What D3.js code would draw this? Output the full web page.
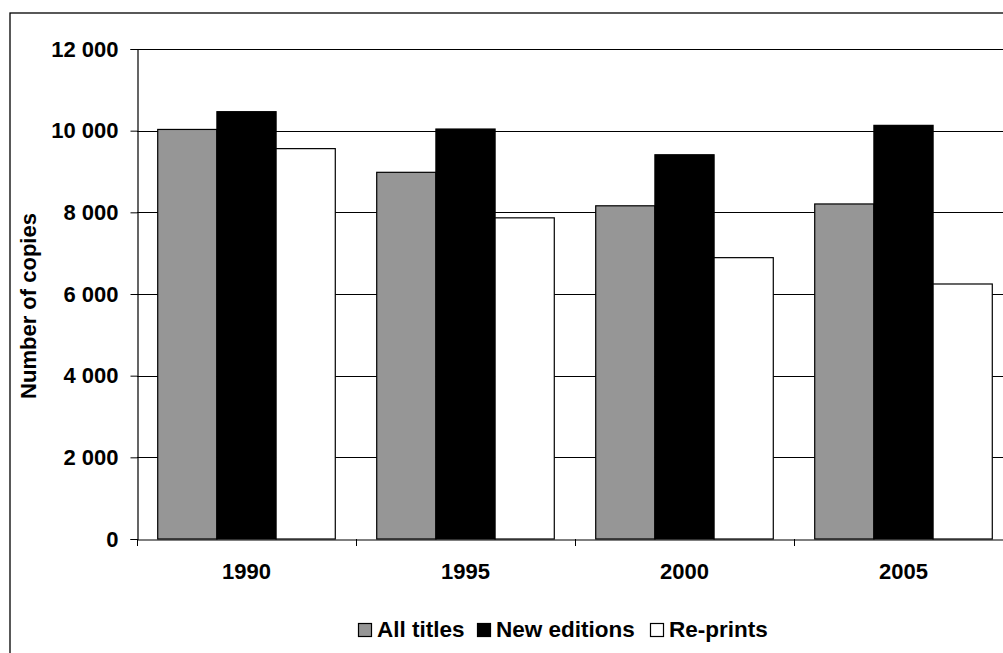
<!DOCTYPE html>
<html>
<head>
<meta charset="utf-8">
<script src="https://cdn.jsdelivr.net/npm/d3@7"></script>
<style>
  html, body { margin: 0; padding: 0; background: #fff; }
  svg { display: block; font-family: "Liberation Sans", Arial, sans-serif; font-weight: bold; }
</style>
</head>
<body>
<svg id="chart" width="1003" height="653"></svg>
<script>
const years = ["1990", "1995", "2000", "2005"];
const seriesNames = ["All titles", "New editions", "Re-prints"];
const allTitles = [10030, 8980, 8160, 8205];
const newEditions = [10465, 10040, 9410, 10130];
const reprints = [9560, 7865, 6890, 6245];
const yTicks = [0, 2000, 4000, 6000, 8000, 10000, 12000];
const seriesColors = ["#969696", "#000000", "#ffffff"];

const seriesValues = [allTitles, newEditions, reprints];

const svg = d3.select("#chart");
const pLeft = 137, pRight = 1013, pTop = 49, pBottom = 539;
const FS = 22;
const FF = "Liberation Sans, Arial, sans-serif";

// outer chart border
svg.append("rect").attr("x", 10).attr("y", 13).attr("width", 1010).attr("height", 660)
  .attr("fill", "#fff").attr("stroke", "#000").attr("stroke-width", 1.3);

const x = d3.scaleBand().domain(years).range([pLeft, pRight]).padding(0);
const xs = d3.scaleBand().domain(seriesNames).range([0, x.bandwidth()]).paddingInner(0).paddingOuter(0.35);
const y = d3.scaleLinear().domain([0, 12000]).range([pBottom, pTop]);

const fmt = v => d3.format(",")(v).replace(/,/g, " ");

// gridlines
svg.append("g").selectAll("line").data(yTicks.filter(t => t > 0)).join("line")
  .attr("x1", pLeft).attr("x2", pRight)
  .attr("y1", d => Math.round(y(d)) + 0.5).attr("y2", d => Math.round(y(d)) + 0.5)
  .attr("stroke", "#000").attr("stroke-width", 1);

// bars
const groups = svg.append("g").selectAll("g").data(years).join("g")
  .attr("transform", d => `translate(${x(d)},0)`);
groups.selectAll("rect").data((d, i) => seriesNames.map((s, j) => ({ s, j, v: seriesValues[j][i] })))
  .join("rect")
  .attr("x", d => xs(d.s))
  .attr("y", d => y(d.v))
  .attr("width", xs.bandwidth())
  .attr("height", d => pBottom - y(d.v))
  .attr("fill", d => seriesColors[d.j])
  .attr("stroke", "#000").attr("stroke-width", 1.2);

// y axis
const yAxis = d3.axisLeft(y).tickValues(yTicks).tickSize(7).tickPadding(12).tickFormat(fmt);
const gy = svg.append("g").attr("transform", `translate(${pLeft + 0.5},0)`).call(yAxis);
gy.select(".domain").attr("stroke", "#000").attr("stroke-width", 1.2);
gy.selectAll(".tick line").attr("stroke", "#000");
gy.selectAll("text").attr("font-size", FS).attr("font-weight", "bold").attr("fill", "#000")
  .attr("font-family", FF);

// x axis
const gx = svg.append("g").attr("transform", `translate(0,${pBottom + 0.5})`)
  .call(d3.axisBottom(x).tickSize(0).tickPadding(24));
gx.select(".domain").attr("stroke", "#000").attr("stroke-width", 1.2);
gx.selectAll("text").attr("font-size", FS).attr("font-weight", "bold").attr("fill", "#000")
  .attr("font-family", FF);
// category boundary ticks
svg.append("g").selectAll("line").data(years).join("line")
  .attr("x1", d => Math.round(x(d)) + 0.5).attr("x2", d => Math.round(x(d)) + 0.5)
  .attr("y1", pBottom).attr("y2", pBottom + 7).attr("stroke", "#000");

// top plot border
svg.append("line").attr("x1", pLeft).attr("x2", pRight).attr("y1", pTop + 0.5).attr("y2", pTop + 0.5)
  .attr("stroke", "#000").attr("stroke-width", 1.2);

// y label
svg.append("text").attr("transform", `translate(36,306) rotate(-90)`)
  .attr("text-anchor", "middle").attr("font-size", FS).attr("fill", "#000")
  .text("Number of copies");

// legend
const legend = svg.append("g");
const legendItems = [
  { name: seriesNames[0], color: seriesColors[0], x: 358 },
  { name: seriesNames[1], color: seriesColors[1], x: 477 },
  { name: seriesNames[2], color: seriesColors[2], x: 650 }
];
legendItems.forEach(it => {
  legend.append("rect").attr("x", it.x + 0.5).attr("y", 623.5).attr("width", 13).attr("height", 13)
    .attr("fill", it.color).attr("stroke", "#000").attr("stroke-width", 1.2);
  legend.append("text").attr("x", it.x + 19).attr("y", 637).attr("font-size", 22.5)
    .attr("fill", "#000").text(it.name);
});
</script>
</body>
</html>
